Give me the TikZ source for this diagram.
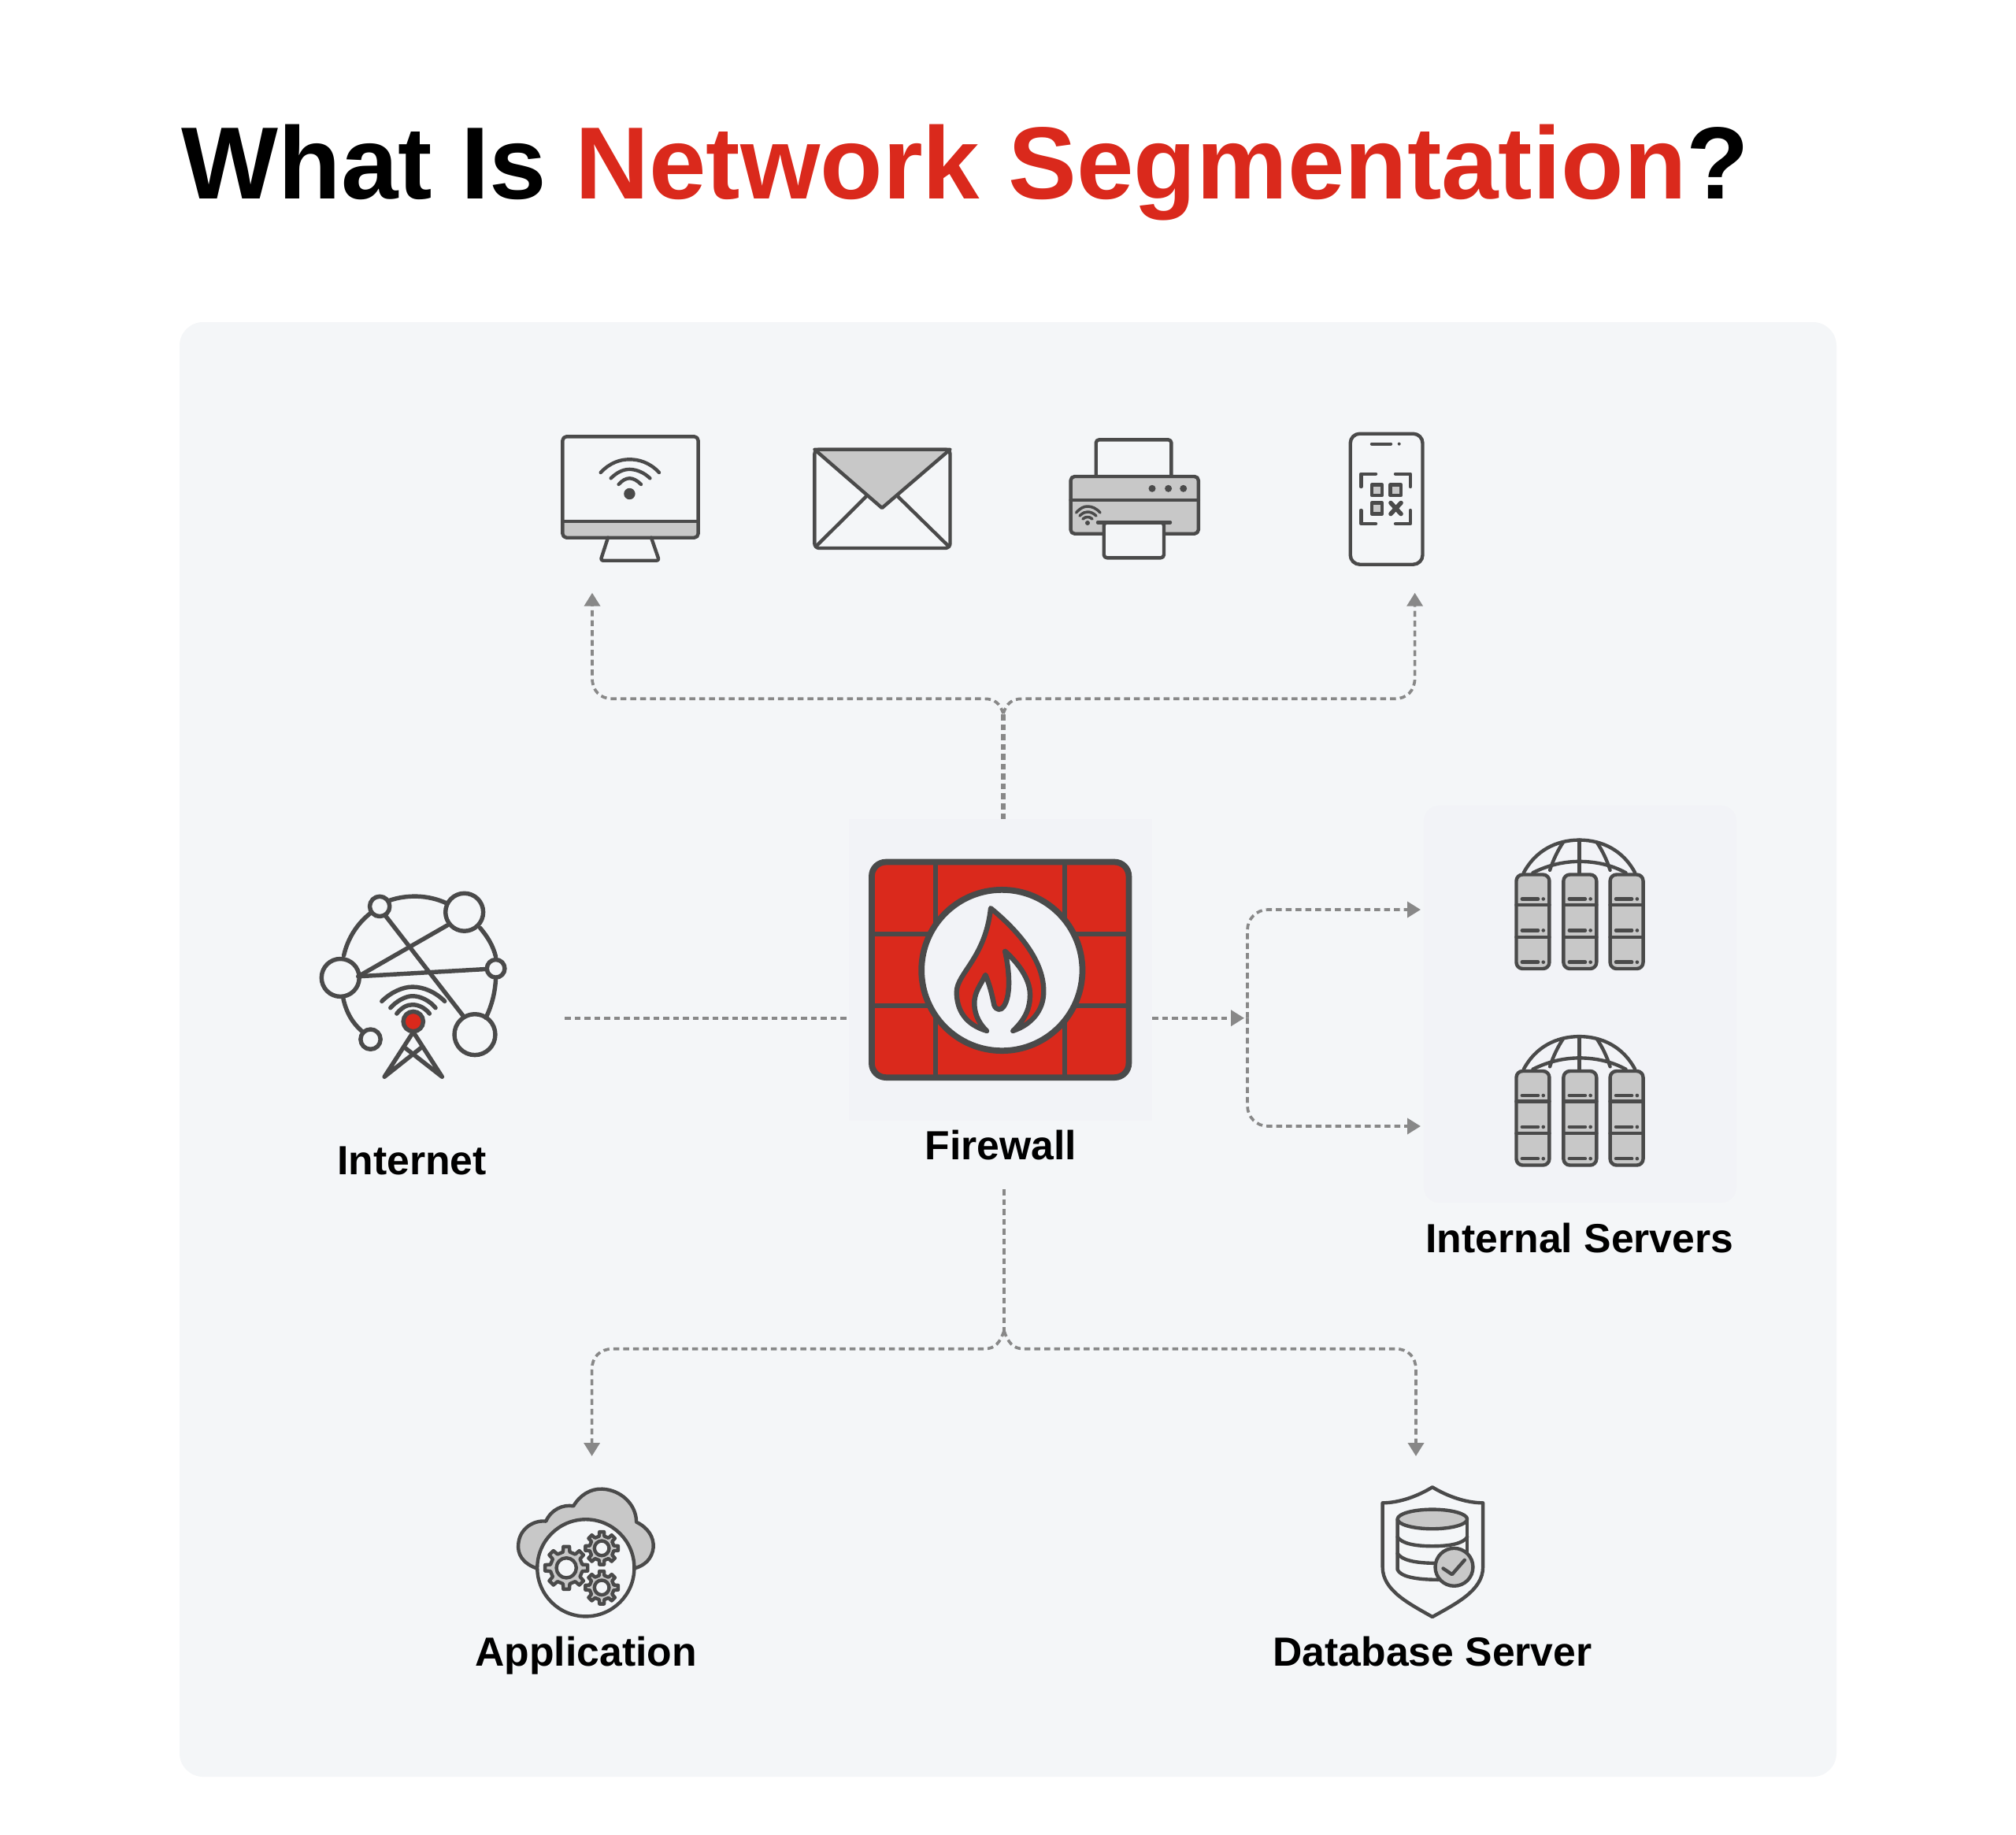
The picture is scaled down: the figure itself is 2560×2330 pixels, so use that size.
\documentclass[tikz,border=0pt]{standalone}
\usepackage{fontspec}
\setmainfont{Liberation Sans}
\usetikzlibrary{arrows.meta}
\definecolor{panelc}{HTML}{F4F6F8}
\definecolor{innerc}{HTML}{F2F3F7}
\definecolor{ink}{HTML}{4A4A4A}
\definecolor{gf}{HTML}{C8C8C8}
\definecolor{flowc}{HTML}{888888}
\definecolor{redc}{HTML}{DA291C}
\tikzset{
  zoomunits/.style={x=0.0033333cm,y=-0.0033333cm},
  ic/.style={draw=ink,line width=1.25pt,line join=round,line cap=round},
  icthick/.style={draw=ink,line width=1.55pt,line join=round,line cap=round},
  fw/.style={draw=ink,line width=2.2pt,line join=round,line cap=round},
  flow/.style={draw=flowc,line width=1.05pt,dash pattern=on 0.075cm off 0.05cm},
  flowr/.style={flow,rounded corners=0.26cm},
  flowv/.style={flow,line width=1.5pt},
  tipped/.style={-{Triangle[length=0.17cm,width=0.2cm,flowc]}},
  label/.style={font=\fontsize{14.7pt}{17pt}\selectfont\bfseries,text=black,inner sep=0pt,anchor=base},
  softbox/.style={fill=innerc,draw=none,inner sep=0pt}
}
\newcommand{\gearicon}[5]{%
  \begin{scope}[shift={(#1,#2)}]
    \draw[ic,fill=gf] (-12:#4) \foreach \k in {0,45,...,315} { -- (\k-12:#4) -- (\k-8:#3) -- (\k+8:#3) -- (\k+12:#4)} -- cycle;
    \draw[ic,fill=panelc] (0,0) circle (#5);
  \end{scope}}
\newcommand{\serverstack}[2]{%
  \begin{scope}[shift={(#1,#2)},zoomunits]
    \draw[ic] (405,265) .. controls (450,180) and (530,140) .. (617,140) .. controls (705,140) and (785,180) .. (830,265);
    \draw[ic] (440,265) .. controls (500,235) and (560,222) .. (617,222) .. controls (680,222) and (740,235) .. (795,265);
    \draw[ic] (555,150) .. controls (535,180) and (518,215) .. (505,255);
    \draw[ic] (685,150) .. controls (705,180) and (722,215) .. (735,255);
    \draw[ic] (618,140) -- (618,265);
    \foreach \cx in {372,552,730} {
      \draw[ic,fill=gf,rounded corners=0.08cm] (\cx+5,272) rectangle (\cx+131,631);
      \draw[ic] (\cx+5,388) -- (\cx+131,388) (\cx+5,510) -- (\cx+131,510);
      \foreach \sy in {365,485,606} {
        \draw[ic] (\cx+27,\sy) -- (\cx+88,\sy);
        \fill[ink] (\cx+108,\sy) circle (7);
      }
    }
  \end{scope}}
\begin{document}
\begin{tikzpicture}[x=0.01cm,y=-0.01cm]
\useasboundingbox (0,0) rectangle (2560,2330);
\fill[white] (0,0) rectangle (2560,2330);
% panel
\fill[panelc,rounded corners=0.3cm] (228,409) rectangle (2332,2256);
\node[softbox,minimum width=3.85cm,minimum height=3.83cm] (fwbox) at (1270.5,1231.5) {};
\node[softbox,rounded corners=0.2cm,minimum width=3.97cm,minimum height=5.04cm] (srvbox) at (2006.5,1275) {};
% title
\node[inner sep=0pt,anchor=base west,font=\fontsize{37.05pt}{40pt}\selectfont\bfseries] (title) at (230,252) {\textcolor{black}{What Is }\textcolor{redc}{Network Segmentation}\textcolor{black}{?}};
% connector anchors
\coordinate (topup) at (1274,1040);
\coordinate (topjoin) at (1274,906);
\coordinate (tipA) at (752,752.7);
\coordinate (tipB) at (1796.6,752.7);
\coordinate (inetR) at (717,1292.7);
\coordinate (fwR) at (1463,1292.7);
\coordinate (srvjoin) at (1580,1292.7);
\coordinate (midv) at (1584,1292.7);
\coordinate (tipC) at (1804,1155);
\coordinate (tipD) at (1804,1430);
\coordinate (botstart) at (1275,1510);
\coordinate (botjoin) at (1275,1690);
\coordinate (tipE) at (751.6,1849);
\coordinate (tipF) at (1798,1849);
% connectors
\draw[flowv] (topup) -- (topjoin);
\draw[flow,tipped] (topjoin) .. controls (1270,894) and (1264,887.3) .. (1250,887.3) -- (778,887.3) .. controls (762,887.3) and (752,877) .. (752,861) -- (tipA);
\draw[flow,tipped] (topjoin) .. controls (1278,894) and (1284,887.3) .. (1298,887.3) -- (1770.6,887.3) .. controls (1786.6,887.3) and (1796.6,877) .. (1796.6,861) -- (tipB);
\draw[flow] (inetR) -- (fwbox.west |- inetR);
\draw[flow,tipped] (fwR) -- (srvjoin);
\draw[flowr,tipped] (midv) -- (1584,1155) -- (tipC);
\draw[flowr,tipped] (midv) -- (1584,1430) -- (tipD);
\draw[flow] (botstart) -- (botjoin);
\draw[flow,tipped] (botjoin) .. controls (1270,1704) and (1264,1712.7) .. (1250,1712.7) -- (778,1712.7) .. controls (762,1712.7) and (751.6,1723) .. (751.6,1739) -- (tipE);
\draw[flow,tipped] (botjoin) .. controls (1280,1704) and (1286,1712.7) .. (1300,1712.7) -- (1772,1712.7) .. controls (1788,1712.7) and (1798,1723) .. (1798,1739) -- (tipF);
% monitor
\fill[gf] (716,661.7) rectangle (885,681);
\draw[ic,rounded corners=0.05cm] (714.4,554.3) rectangle (886.6,682.7);
\draw[ic] (714.4,661.7) -- (886.6,661.7);
\draw[ic,rounded corners=0.03cm] (772,682.7) -- (762.6,711.7) -- (837,711.7) -- (827,682.7);
\fill[ink] (799.4,627) circle (7.2);
\draw[ic] (762.7,600) .. controls (775,587) and (788,583.3) .. (799.4,583.3) .. controls (811,583.3) and (825,587) .. (837,600);
\draw[ic] (775.7,607.3) .. controls (783,600) and (791,595.9) .. (799.4,595.9) .. controls (808,595.9) and (818,600) .. (825.4,607.3);
\draw[ic] (785.6,615) .. controls (790,610) and (795,607.3) .. (799.4,607.3) .. controls (804,607.3) and (809,610) .. (814,615);
% envelope
\draw[ic,fill=gf] (1034.3,570.7) -- (1206.5,570.7) -- (1120,645) -- cycle;
\draw[ic,rounded corners=0.06cm] (1034.3,570.7) rectangle (1206.5,696);
\draw[ic] (1036,694) -- (1101,629.3);
\draw[ic] (1205,694) -- (1139,629.3);
% printer
\draw[ic,rounded corners=0.04cm] (1391.7,605) -- (1391.7,558.3) -- (1487.4,558.3) -- (1487.4,605);
\draw[ic,fill=gf,rounded corners=0.05cm] (1359.6,605) rectangle (1521.8,677.7);
\draw[ic] (1359.6,635) -- (1521.8,635);
\foreach \dx in {1463,1483.6,1502.7} {\fill[ink] (\dx,620.3) circle (4.5);}
\draw[ic,fill=panelc,rounded corners=0.04cm] (1401.7,663.3) -- (1401.7,708.3) -- (1478,708.3) -- (1478,663.3) -- cycle;
\draw[ic] (1394,663.3) -- (1486,663.3);
\fill[ink] (1381,664) circle (3);
\draw[ic,line width=1pt] (1366.5,651) .. controls (1372,645) and (1376,643) .. (1381,643) .. controls (1386,643) and (1392,645) .. (1397,651);
\draw[ic,line width=1pt] (1371,655) .. controls (1375,651) and (1378,650) .. (1381,650) .. controls (1384,650) and (1388,651) .. (1392,655);
\draw[ic,line width=1pt] (1375,659) .. controls (1377,657) and (1379,656.5) .. (1381,656.5) .. controls (1383,656.5) and (1385,657) .. (1387,659);
% phone
\draw[ic,rounded corners=0.12cm] (1714.7,550.7) rectangle (1806.5,716.7);
\draw[ic] (1742,563.7) -- (1766,563.7);
\fill[ink] (1776.7,563.7) circle (2);
\draw[ic] (1728.4,618) -- (1728.4,601.7) -- (1747,601.7);
\draw[ic] (1772,601.7) -- (1791,601.7) -- (1791,618);
\draw[ic] (1728.4,648) -- (1728.4,665) -- (1747,665);
\draw[ic] (1772,665) -- (1791,665) -- (1791,648);
\draw[ic,fill=gf] (1742,615.5) rectangle (1755,629);
\draw[ic,fill=gf] (1765.5,615.5) rectangle (1779,629);
\draw[ic,fill=gf] (1742,638.5) rectangle (1755,652.5);
\draw[ic,line width=1.6pt] (1766,638.5) -- (1779,652.5) (1779,638.5) -- (1766,652.5);
% internet
\begin{scope}[shift={(380,1100)},zoomunits]
  \draw[icthick] (345,130) .. controls (410,108) and (490,108) .. (560,140);
  \draw[icthick] (270,180) .. controls (220,220) and (185,275) .. (170,340);
  \draw[icthick] (690,235) .. controls (720,270) and (740,305) .. (750,345);
  \draw[icthick] (750,425) .. controls (748,480) and (735,530) .. (712,578);
  \draw[icthick] (168,505) .. controls (180,560) and (205,600) .. (240,630);
  \draw[icthick] (330,190) -- (625,570);
  \draw[icthick] (565,225) -- (225,420);
  \draw[icthick] (225,420) -- (715,392);
  \draw[icthick] (630,175) circle (72);
  \draw[icthick] (157,425) circle (72);
  \draw[icthick] (670,642) circle (78);
  \draw[icthick] (307,153) circle (38);
  \draw[icthick] (750,390) circle (34);
  \draw[icthick] (272,660) circle (38);
  \draw[icthick] (315,515) .. controls (350,480) and (395,460) .. (432,460) .. controls (475,460) and (520,480) .. (555,515);
  \draw[icthick] (348,540) .. controls (370,515) and (405,495) .. (432,495) .. controls (465,495) and (500,515) .. (520,540);
  \draw[icthick] (372,562) .. controls (390,540) and (410,528) .. (432,528) .. controls (455,528) and (480,540) .. (497,562);
  \draw[icthick] (435,632) -- (325,803) -- (465,692);
  \draw[icthick] (435,632) -- (545,803) -- (403,692);
  \draw[icthick,fill=redc] (435,592) circle (38);
\end{scope}
% firewall
\begin{scope}[shift={(1060,1030)},zoomunits]
  \draw[fw,fill=redc,rounded corners=0.18cm] (141,194) rectangle (1122,1016);
  \draw[fw,line width=1.6pt] (385,194) -- (385,1016) (877,194) -- (877,1016) (141,468) -- (1122,468) (141,742) -- (1122,742);
  \draw[fw,fill=innerc] (638,607) circle (307);
  \draw[fw,line width=1.8pt,fill=redc] (580,838) .. controls (500,815) and (465,760) .. (465,690) .. controls (465,620) and (575,560) .. (595,370) .. controls (680,440) and (800,560) .. (797,690) .. controls (797,760) and (750,815) .. (680,838) .. controls (720,800) and (745,760) .. (745,700) .. controls (745,640) and (700,580) .. (650,535) .. controls (665,600) and (675,700) .. (645,745) .. controls (635,762) and (615,760) .. (608,740) .. controls (600,700) and (590,660) .. (575,625) .. controls (560,660) and (530,690) .. (533,740) .. controls (535,780) and (555,815) .. (580,838) -- cycle;
  \fill[innerc] (582,838) .. controls (557,815) and (537,780) .. (535,740) .. controls (532,690) and (560,660) .. (575,630) .. controls (590,660) and (600,700) .. (606,740) .. controls (615,762) and (637,762) .. (647,745) .. controls (677,700) and (667,600) .. (652,540) .. controls (702,580) and (743,640) .. (743,700) .. controls (743,760) and (718,800) .. (678,838) -- cycle;
  \draw[fw,line width=1.8pt] (680,838) .. controls (720,800) and (745,760) .. (745,700) .. controls (745,640) and (700,580) .. (650,535) .. controls (665,600) and (675,700) .. (645,745) .. controls (635,762) and (615,760) .. (608,740) .. controls (600,700) and (590,660) .. (575,625) .. controls (560,660) and (530,690) .. (533,740) .. controls (535,780) and (555,815) .. (580,838);
\end{scope}
% servers
\serverstack{1800}{1020}
\serverstack{1800}{1269.5}
% application
\begin{scope}[shift={(640,1880)},zoomunits]
  \draw[ic,fill=gf] (125,335) .. controls (70,315) and (50,280) .. (55,240) .. controls (60,185) and (110,150) .. (160,155) .. controls (180,110) and (225,90) .. (265,97) .. controls (290,55) and (330,30) .. (375,32) .. controls (445,35) and (505,90) .. (505,158) .. controls (550,180) and (572,215) .. (570,255) .. controls (565,300) and (535,325) .. (497,335) -- cycle;
  \draw[ic,fill=panelc] (312,333) circle (185);
  \gearicon{238}{333}{82}{62}{38}{}
  \gearicon{373}{258}{63}{47}{28}{}
  \gearicon{373}{408}{63}{47}{28}{}
\end{scope}
% database
\begin{scope}[shift={(1740,1880)},zoomunits]
  \draw[ic] (237,25) .. controls (180,60) and (110,85) .. (47,85) -- (47,330) .. controls (47,420) and (150,470) .. (237,520) .. controls (325,470) and (430,420) .. (430,330) -- (430,85) .. controls (365,85) and (295,60) .. (237,25) -- cycle;
  \draw[ic] (104,147) -- (104,340) .. controls (115,365) and (170,378) .. (260,378);
  \draw[ic] (370,147) -- (370,280);
  \draw[ic] (104,215) .. controls (120,240) and (170,250) .. (237,250) .. controls (305,250) and (355,240) .. (370,215);
  \draw[ic] (104,278) .. controls (120,303) and (170,315) .. (250,315);
  \draw[ic,fill=gf] (237,147) ellipse (133 and 37);
  \draw[ic,fill=gf] (320,330) circle (72);
  \draw[ic] (278,335) -- (312,358) -- (360,303);
\end{scope}
% labels
\node[label] (lblInternet) at (523,1491) {Internet};
\node[label] (lblFirewall) at (1271,1472) {Firewall};
\node[label] (lblServers) at (2006,1590) {Internal Servers};
\node[label] (lblApp) at (744,2115) {Application};
\node[label] (lblDb) at (1819,2115) {Database Server};
\end{tikzpicture}
\end{document}
